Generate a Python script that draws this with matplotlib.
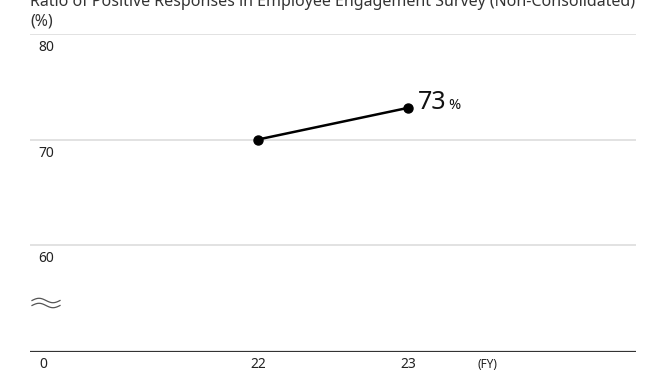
import numpy as np
import matplotlib.pyplot as plt

plt.rcParams['font.family'] = ['Noto Sans', 'DejaVu Sans']

# engagement survey results
years = [22, 23]
ratio = [70, 73]
grid_vals = [60, 70, 80]
bottom = 49.86  # where the broken axis "0" line sits

W, H = 662, 371
fig = plt.figure(figsize=(W / 100, H / 100), dpi=100)
ax = fig.add_axes([30 / W, 1 - 352 / H, 606 / W, 318 / H])
ax.set_xlim(20.48, 24.52)
ax.set_ylim(bottom, 80)
ax.axis('off')

txt = '#222222'
for v in grid_vals:
    ax.axhline(v, color='#dddddd', lw=1.2, zorder=1)
    ax.annotate(str(v), (0, v), xycoords=('axes fraction', 'data'),
                xytext=(6, -12.3), textcoords='offset points', ha='left', va='baseline',
                fontsize=10, color=txt)
ax.axhline(bottom, color='#333333', lw=1.6, zorder=2)
ax.annotate('0', (0, bottom), xycoords=('axes fraction', 'data'),
            xytext=(7, -11.2), textcoords='offset points', ha='left', va='baseline',
            fontsize=10, color=txt)

# x tick labels
for x in years:
    ax.annotate(str(x), (x, bottom), xycoords='data', xytext=(0, -11.2),
                textcoords='offset points', ha='center', va='baseline',
                fontsize=10, color=txt)
ax.annotate('(FY)', (23.53, bottom), xycoords='data', xytext=(0, -11.2),
            textcoords='offset points', ha='center', va='baseline',
            fontsize=8.5, color=txt)

# break mark: two small waves on the left
t = np.linspace(0, 2 * np.pi, 60)
wx = (32 + 28 * t / (2 * np.pi)) / W
for yc in (300.5, 305.5):
    wy = 1 - (yc - 2.2 * np.sin(t)) / H
    fig.add_artist(plt.Line2D(wx, wy, color='#555555', lw=0.9))

ax.plot(years, ratio, color='black', lw=1.8, marker='o', markersize=6.5, zorder=3)
ax.annotate(str(ratio[-1]), (years[-1], ratio[-1]), xytext=(7.2, -0.7),
            textcoords='offset points', ha='left', va='baseline', fontsize=18,
            fontweight='light', color='#111111')
ax.annotate('%', (years[-1], ratio[-1]), xytext=(29.3, -0.7),
            textcoords='offset points', ha='left', va='baseline', fontsize=10.5,
            color='#111111')

fig.text(30 / W, 1 - 6 / H, 'Ratio of Positive Responses in Employee Engagement Survey (Non-Consolidated)',
         ha='left', va='baseline', fontsize=11.5, color='#333333')
fig.text(30 / W, 1 - 25 / H, '(%)', ha='left', va='baseline', fontsize=11.5, color='#333333')

fig.savefig('out.png', dpi=100)
